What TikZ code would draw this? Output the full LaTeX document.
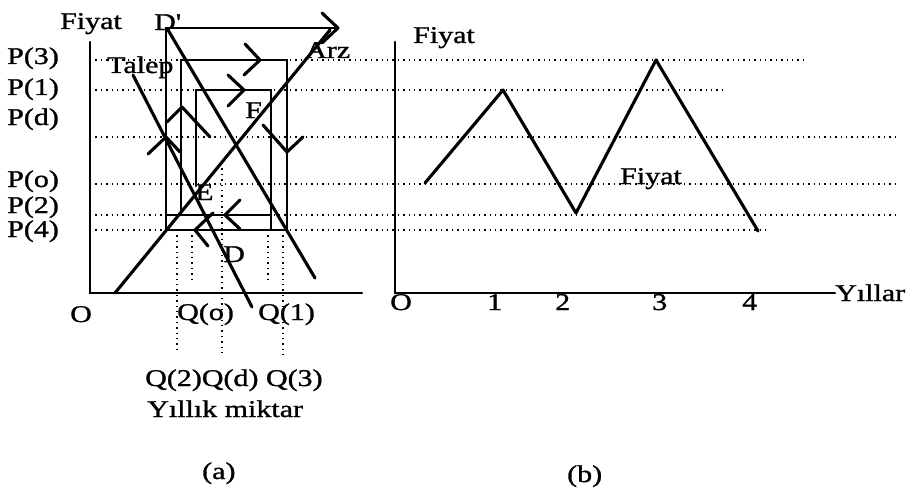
\documentclass[tikz,border=0pt]{standalone}
\usepackage{fontspec}
\setmainfont{Liberation Serif}[FakeStretch=1.25, FakeBold=1.2]
\begin{document}
\begin{tikzpicture}[x=1pt,y=-1pt,
  axisline/.style={line width=2.4pt, line cap=round, line join=miter},
  heavy/.style={line width=3.1pt, line cap=round, line join=round},
  boxline/.style={line width=2.5pt, line cap=round, line join=miter},
  dotline/.style={line width=1.2pt, dash pattern=on 1.4pt off 4pt, black},
  lbl/.style={anchor=base west, inner sep=0pt, font=\fontsize{24}{28}\selectfont}]
\useasboundingbox (0,0) rectangle (908,495);

% ---------- dotted guide lines ----------
\foreach \yy/\xe in {60/805, 90/727, 137/895, 184/895, 215/895, 230/770}
  \draw[dotline] (90,\yy) -- (\xe,\yy);
\draw[dotline] (177,230) -- (177,350);
\draw[dotline] (192,230) -- (192,283);
\draw[dotline] (222,163) -- (222,355);
\draw[dotline] (268,230) -- (268,283);
\draw[dotline] (283,230) -- (283,355);

% ---------- left diagram (a) ----------
\draw[axisline] (90,42) -- (90,293) -- (362,293);

% supply, demand, shifted demand
\draw[heavy] (115,293) -- (330,30);
\draw[heavy] (133,75) -- (252,307);
\draw[heavy] (168,30) -- (315,278);

% cobweb rectangles
\draw[boxline] (338,28) -- (166,28) -- (166,230) -- (287,230) -- (287,60) -- (181,60) -- (181,215);
\draw[boxline] (166,215) -- (271,215);
\draw[boxline] (271,230) -- (271,90) -- (196,90) -- (196,186);

% direction chevrons
\draw[heavy] (322,13) -- (338,28) -- (322,43);
\draw[heavy] (245,44) -- (260,60) -- (244,75);
\draw[heavy] (228,75) -- (244,90) -- (228,106);
\draw[heavy] (167,122) -- (182,107) -- (210,137);
\draw[heavy] (148,154) -- (166,137) -- (180,152);
\draw[heavy] (263,125) -- (287,152) -- (303,137);
\draw[heavy] (240,200) -- (225,215) -- (240,229);
\draw[heavy] (213,213) -- (195,230) -- (208,246);

% labels (a)
\node[lbl] (fy1) at (60,29) {Fiyat};
\node[lbl] (dp) at (154,30) {D\textquotesingle};
\node[lbl] (talep) at (107,73) {Talep};
\node[lbl] (arz) at (305,58) {Arz};
\node[lbl] (lF) at (245,118) {F};
\node[lbl] (lE) at (195,200) {E};
\node[lbl] (lD) at (223,262) {D};
\node[lbl] (p3) at (7,64) {P(3)};
\node[lbl] (p1) at (7,95) {P(1)};
\node[lbl] (pd) at (7,125) {P(d)};
\node[lbl] (po) at (7,187) {P(o)};
\node[lbl] (p2) at (7,213) {P(2)};
\node[lbl] (p4) at (7,237) {P(4)};
\node[lbl] (o1) at (70,322) {O};
\node[lbl] (qo) at (177,320) {Q(o)};
\node[lbl] (q1) at (258,320) {Q(1)};
\node[lbl] (q2d3) at (145,386) {Q(2)Q(d) Q(3)};
\node[lbl] (ym) at (147,417) {Yıllık miktar};
\node[lbl] (la) at (202,479) {(a)};

% ---------- right diagram (b) ----------
\draw[axisline] (395,42) -- (395,293) -- (835,293);
\draw[heavy] (425,183) -- (503,90) -- (576,213) -- (656,60) -- (758,231);

\node[lbl] (fy2) at (413,43) {Fiyat};
\node[lbl] (fy3) at (620,184) {Fiyat};
\node[lbl] (o2) at (390,310) {O};
\node[lbl] (y1) at (487,310) {1};
\node[lbl] (y2) at (555,310) {2};
\node[lbl] (y3) at (652,310) {3};
\node[lbl] (y4) at (742,310) {4};
\node[lbl] (yil) at (835,301) {Yıllar};
\node[lbl] (lb) at (567,482) {(b)};
\end{tikzpicture}
\end{document}
